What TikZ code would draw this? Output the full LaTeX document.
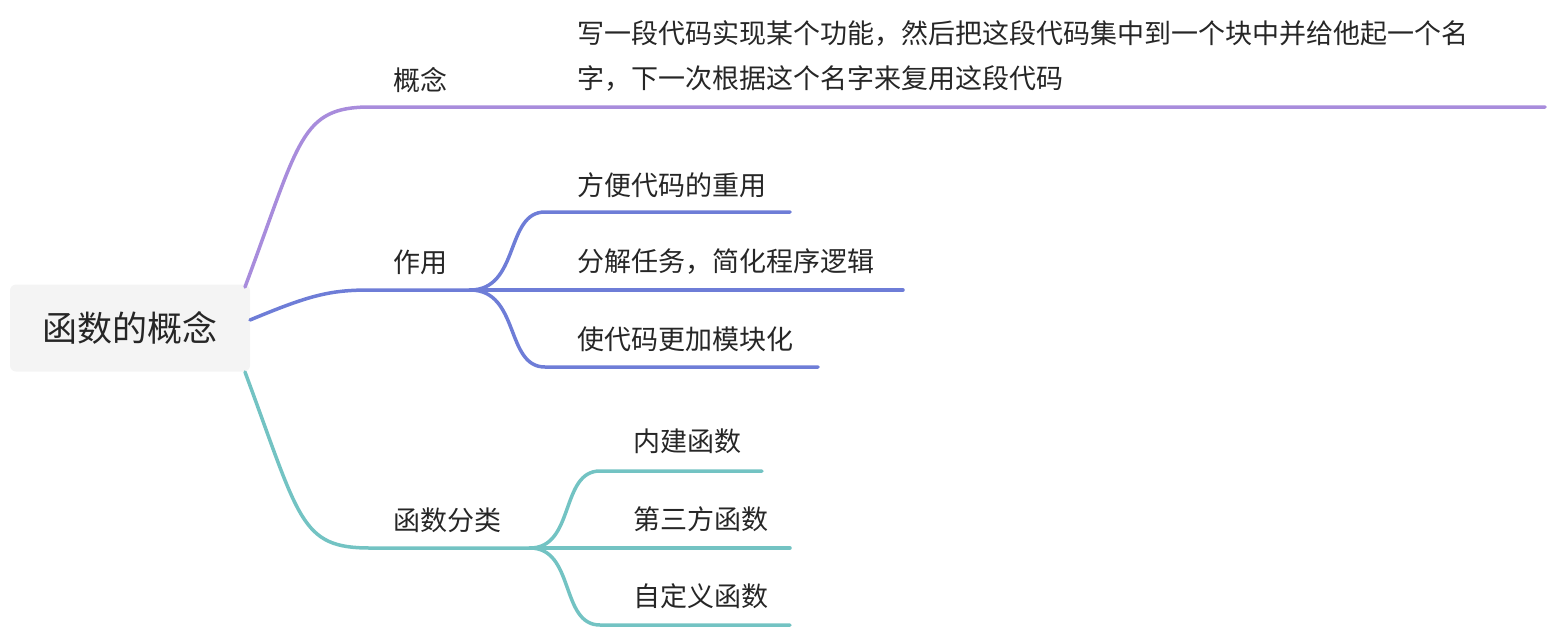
\documentclass[tikz,border=0pt]{standalone}
\usepackage{fontspec}
\setmainfont{Noto Sans CJK SC}
\usetikzlibrary{positioning}
\definecolor{PurpleBr}{RGB}{168,140,220}
\definecolor{BlueBr}{RGB}{110,125,215}
\definecolor{TealBr}{RGB}{115,195,195}
\definecolor{RootFill}{RGB}{244,244,244}
\begin{document}
\begin{tikzpicture}[x=1pt, y=-1pt,
root/.style={rectangle, rounded corners=6pt, fill=RootFill, minimum width=240pt,
minimum height=87pt, font=\fontsize{35}{40}\selectfont, text=black!85},
%
topic/.style={anchor=west, inner sep=0pt, font=\fontsize{27}{32}\selectfont, text=black!85},
%
branch/.style={line width=3.5pt, line cap=round}]

\useasboundingbox (0,0) rectangle (1550,630);

\node [root] (Func) at (130,328) {函数的概念};

%%%%%%%%%%%%%%%%%%%%%%%%%%%%%%
\node [topic] (Concept) at (393,80) {概念};
\node [topic, align=left, font=\fontsize{27}{45}\selectfont] (ConceptTxt) at (577,56)
  {写一段代码实现某个功能，然后把这段代码集中到一个块中并给他起一个名\\字，下一次根据这个名字来复用这段代码};
\coordinate (cA) at (370,107);
\coordinate (cB) at (1545,107);
\draw [branch, PurpleBr] (245,287) .. controls (300,140) and (300,107) .. (cA) -- (cB);

%%%%%%%%%%%%%%%%%%%%%%%%%%%%%%
\node [topic] (Use) at (393,262) {作用};
\node [topic] (Reuse) at (577,185) {方便代码的重用};
\node [topic] (Split) at (577,262) {分解任务，简化程序逻辑};
\node [topic] (Modular) at (577,339) {使代码更加模块化};
\coordinate (uA) at (370,290);
\coordinate (uB) at (470,290);
\draw [branch, BlueBr] (250,320) .. controls (310,295) and (330,290) .. (uA) -- (uB);
\draw [branch, BlueBr] (uB) .. controls (520,290) and (505,212) .. (545,212) -- (790,212);
\draw [branch, BlueBr] (uB) -- (903,290);
\draw [branch, BlueBr] (uB) .. controls (520,290) and (505,367) .. (545,367) -- (818,367);

%%%%%%%%%%%%%%%%%%%%%%%%%%%%%%
\node [topic] (Kind) at (393,520) {函数分类};
\node [topic] (Builtin) at (633,441) {内建函数};
\node [topic] (Third) at (633,519) {第三方函数};
\node [topic] (Custom) at (633,596) {自定义函数};
\coordinate (kA) at (370,548);
\coordinate (kB) at (530,548);
\draw [branch, TealBr] (245,372) .. controls (300,520) and (300,548) .. (kA) -- (kB);
\draw [branch, TealBr] (kB) .. controls (575,548) and (560,471) .. (600,471) -- (762,471);
\draw [branch, TealBr] (kB) -- (790,548);
\draw [branch, TealBr] (kB) .. controls (575,548) and (560,625) .. (600,625) -- (790,625);

\end{tikzpicture}
\end{document}
